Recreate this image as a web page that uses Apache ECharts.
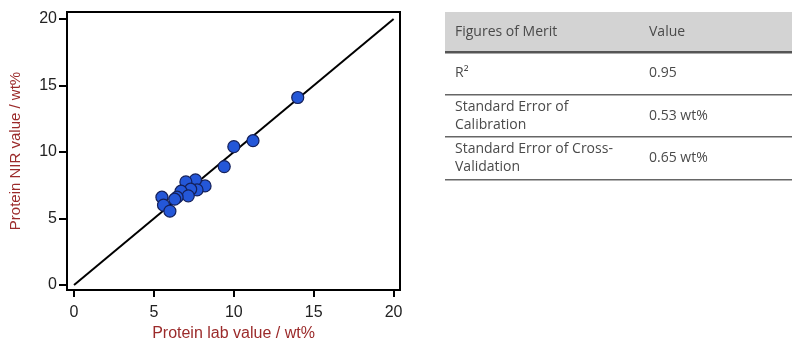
<!DOCTYPE html>
<html><head><meta charset="utf-8">
<script src="https://cdn.jsdelivr.net/npm/echarts@6/dist/echarts.min.js"></script>
<style>html,body{margin:0;padding:0;background:#fff}#c{width:800px;height:346px}</style>
</head><body><div id="c"></div>
<script>
const labValues = [14.0, 11.2, 10.0, 9.4, 8.2, 7.6, 7.0, 7.7, 7.3, 6.7, 7.15, 6.45, 6.3, 5.5, 5.6, 6.0];
const nirValues = [14.1, 10.85, 10.4, 8.9, 7.45, 7.9, 7.75, 7.15, 7.2, 7.05, 6.7, 6.6, 6.45, 6.6, 6.0, 5.55];
const idealLine = [[0, 0], [20, 20]];
const tickValues = [0, 5, 10, 15, 20];
const tableHeader = ['Figures of Merit', 'Value'];
const tableRows = [
  [['R²'], '0.95'],
  [['Standard Error of', 'Calibration'], '0.53 wt%'],
  [['Standard Error of Cross-', 'Validation'], '0.65 wt%']
];

const chart = echarts.init(document.getElementById('c'));
const points = labValues.map((v, i) => [v, nirValues[i]]);

const tblLeft = 445, tblRight = 792, col2 = 649, textX = 455;
const rowTops = [52, 95, 137];
const rowBottoms = [95, 137, 180];
const g = [];
g.push({type: 'rect', shape: {x: tblLeft, y: 12, width: tblRight - tblLeft, height: 40}, style: {fill: '#d3d3d3'}});
g.push({type: 'rect', shape: {x: tblLeft, y: 51, width: tblRight - tblLeft, height: 2.5}, style: {fill: '#555'}});
const tf = {fontFamily: 'Open Sans', fontSize: 14, fill: '#4a4a4a'};
g.push({type: 'text', x: textX, y: 32, style: Object.assign({text: tableHeader[0], verticalAlign: 'middle'}, tf)});
g.push({type: 'text', x: col2, y: 32, style: Object.assign({text: tableHeader[1], verticalAlign: 'middle'}, tf)});
tableRows.forEach((r, i) => {
  const mid = (rowTops[i] + rowBottoms[i]) / 2;
  const lines = r[0];
  const lh = 18;
  lines.forEach((t, j) => {
    const y = mid + (j - (lines.length - 1) / 2) * lh;
    g.push({type: 'text', x: textX, y: y, style: Object.assign({text: t, verticalAlign: 'middle'}, tf)});
  });
  g.push({type: 'text', x: col2, y: mid, style: Object.assign({text: r[1], verticalAlign: 'middle'}, tf)});
  g.push({type: 'rect', shape: {x: tblLeft, y: rowBottoms[i] - 1, width: tblRight - tblLeft, height: 1.6}, style: {fill: '#666'}});
});

chart.setOption({
  animation: false,
  grid: {left: 67, right: 400, top: 12, bottom: 56, outerBoundsMode: 'none', containLabel: false, show: true, borderColor: '#000', borderWidth: 2, backgroundColor: 'transparent'},
  xAxis: {
    type: 'value', min: -0.44, max: 20.4,
    name: 'Protein lab value / wt%', nameLocation: 'middle', nameGap: 33,
    nameTextStyle: {color: '#9b2a2a', fontFamily: 'Liberation Sans', fontSize: 16},
    axisLine: {show: true, onZero: false, lineStyle: {color: '#000', width: 2}},
    axisTick: {show: true, inside: false, length: 7, lineStyle: {color: '#000', width: 2}, customValues: tickValues},
    axisLabel: {color: '#222', fontFamily: 'Liberation Sans', fontSize: 16, margin: 15, customValues: tickValues},
    splitLine: {show: false}
  },
  yAxis: {
    type: 'value', min: -0.38, max: 20.53,
    name: 'Protein NIR value / wt%', nameLocation: 'middle', nameGap: 44,
    nameTextStyle: {color: '#9b2a2a', fontFamily: 'Liberation Sans', fontSize: 15},
    axisLine: {show: true, onZero: false, lineStyle: {color: '#000', width: 2}},
    axisTick: {show: true, inside: false, length: 8, lineStyle: {color: '#000', width: 2}, customValues: tickValues},
    axisLabel: {color: '#222', fontFamily: 'Liberation Sans', fontSize: 16, margin: 10, customValues: tickValues},
    splitLine: {show: false}
  },
  series: [
    {type: 'line', data: idealLine, symbol: 'none', lineStyle: {color: '#000', width: 2}, z: 1},
    {type: 'scatter', data: points, symbolSize: 12, itemStyle: {color: '#2457d8', borderColor: '#14205a', borderWidth: 1.2, opacity: 1}, z: 2}
  ],
  graphic: g
});
</script></body></html>
